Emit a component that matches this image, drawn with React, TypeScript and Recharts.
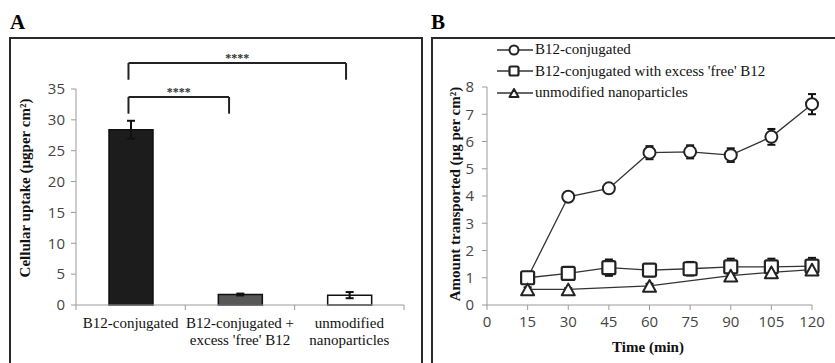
import React from "react";
import {
  BarChart,
  Bar,
  Cell,
  ErrorBar,
  LineChart,
  Line,
  XAxis,
  YAxis,
  ReferenceLine,
  Legend,
} from "recharts";

// panel A
const groups = [
  "B12-conjugated",
  "B12-conjugated +\nexcess 'free' B12",
  "unmodified\nnanoparticles",
];
const uptake = [28.4, 1.7, 1.6];
const uptakeErr = [1.45, 0.15, 0.5];
const barColors = ["#1c1c1c", "#575757", "#ffffff"];
const uptakeTicks = [0, 5, 10, 15, 20, 25, 30, 35];

// significance brackets: x in category units (0..3), y in µg per cm²
const brackets = [
  { from: 0.48, to: 2.47, y: 39.2, leg: 36.5, label: "****" },
  { from: 0.48, to: 1.4, y: 33.7, leg: 31.0, label: "****" },
];

// panel B
const times = [15, 30, 45, 60, 75, 90, 105, 120];
const conjugated = [1.0, 3.97, 4.28, 5.59, 5.62, 5.5, 6.17, 7.37];
const conjugatedErr = [0.1, 0.1, 0.15, 0.24, 0.24, 0.25, 0.29, 0.37];
const withFree = [1.0, 1.16, 1.37, 1.28, 1.33, 1.4, 1.4, 1.43];
const withFreeErr = [0.15, 0.15, 0.3, 0.22, 0.25, 0.3, 0.3, 0.3];
const unmodified = [0.57, 0.57, null, 0.7, null, 1.08, 1.2, 1.3];
const unmodifiedErr = [0.08, 0.05, null, 0.08, null, 0.1, 0.1, 0.1];
const timeTicks = [0, 15, 30, 45, 60, 75, 90, 105, 120];
const amountTicks = [0, 1, 2, 3, 4, 5, 6, 7, 8];

const seriesB = [
  { key: "conj", name: "B12-conjugated", shape: "circle" },
  { key: "free", name: "B12-conjugated with excess 'free' B12", shape: "square" },
  { key: "unmod", name: "unmodified nanoparticles", shape: "triangle" },
];

const barData = groups.map((g, i) => ({ group: g, pos: i + 0.5, value: uptake[i], err: uptakeErr[i] }));
const lineData = times.map((t, i) => ({
  time: t,
  conj: conjugated[i],
  conjErr: conjugatedErr[i],
  free: withFree[i],
  freeErr: withFreeErr[i],
  unmod: unmodified[i],
  unmodErr: unmodifiedErr[i],
}));

const SERIF = "'Liberation Serif', 'Times New Roman', serif";
const SANS = "'Open Sans', 'Liberation Sans', sans-serif";
const INK = "#222";
const AXIS = "#9a9a9a";

function Marker({ shape, cx, cy, s }: { shape: string; cx: number; cy: number; s: number }) {
  if (shape === "circle")
    return <circle cx={cx} cy={cy} r={s / 2} fill="#fff" stroke={INK} strokeWidth={2} />;
  if (shape === "square")
    return (
      <rect x={cx - s / 2} y={cy - s / 2} width={s} height={s} rx={1.5} fill="#fff" stroke={INK} strokeWidth={2.2} />
    );
  const h = s * 0.9;
  return (
    <polygon
      points={`${cx},${cy - h / 2} ${cx + s / 2},${cy + h / 2} ${cx - s / 2},${cy + h / 2}`}
      fill="#fff"
      stroke={INK}
      strokeWidth={2}
      strokeLinejoin="round"
    />
  );
}

function makeDot(shape: string, size: number) {
  return (props: any) => {
    const { cx, cy, index } = props;
    if (cx == null || cy == null) return <g key={index} />;
    return (
      <g key={index}>
        <Marker shape={shape} cx={cx} cy={cy} s={size} />
      </g>
    );
  };
}

const HALF_BAND = 54.7;

function GroupTick(props: any) {
  const { x, y, payload, index } = props;
  const lines = String(payload.value).split("\n");
  return (
    <g>
      <line x1={x - HALF_BAND} x2={x - HALF_BAND} y1={y} y2={y + 5} stroke={AXIS} />
      {index === groups.length - 1 && (
        <line x1={x + HALF_BAND} x2={x + HALF_BAND} y1={y} y2={y + 5} stroke={AXIS} />
      )}
      <text x={x} y={y} textAnchor="middle" fontFamily={SERIF} fontSize={15} fill="#111">
        {lines.map((l, i) => (
          <tspan key={i} x={x} dy={i === 0 ? 23 : 17}>
            {l}
          </tspan>
        ))}
      </text>
    </g>
  );
}

function LegendB() {
  return (
    <div style={{ fontFamily: SERIF, fontSize: 15, color: "#111" }}>
      {seriesB.map((s) => (
        <div key={s.key} style={{ display: "flex", alignItems: "center", height: 21.5 }}>
          <svg width={36} height={16}>
            <line x1={0} x2={36} y1={8} y2={8} stroke="#333" strokeWidth={1.3} />
            <Marker shape={s.shape} cx={17} cy={8} s={9} />
          </svg>
          <span style={{ marginLeft: 2, whiteSpace: "nowrap" }}>{s.name}</span>
        </div>
      ))}
    </div>
  );
}

const tickStyle = { fontFamily: SANS, fontSize: 15, fill: "#444" };

function Title({ x, y, text, rotate }: { x: number; y: number; text: string; rotate?: boolean }) {
  return (
    <div
      style={{
        position: "absolute",
        left: x,
        top: y,
        transform: `translate(-50%, -50%)${rotate ? " rotate(-90deg)" : ""}`,
        fontFamily: SERIF,
        fontWeight: "bold",
        fontSize: 15,
        color: "#111",
        whiteSpace: "nowrap",
      }}
    >
      {text}
    </div>
  );
}

export default function App() {
  return (
    <div
      style={{
        position: "absolute",
        left: 0,
        top: 0,
        width: 835,
        height: 363,
        overflow: "hidden",
        background: "#fff",
      }}
    >
      <div style={{ position: "absolute", left: 10, top: 10, fontFamily: SERIF, fontWeight: "bold", fontSize: 21 }}>A</div>
      <div style={{ position: "absolute", left: 431, top: 10, fontFamily: SERIF, fontWeight: "bold", fontSize: 21 }}>B</div>

      <div
        style={{
          position: "absolute",
          left: 9,
          top: 37,
          width: 410,
          height: 340,
          border: "2px solid #2a2a2a",
          borderBottom: "none",
        }}
      >
        <BarChart width={410} height={324} data={barData} margin={{ top: 50, right: 17, bottom: 0, left: 25 }}>
          <XAxis
            dataKey="group"
            height={58}
            tickLine={false}
            tickSize={0}
            tickMargin={0}
            stroke={AXIS}
            interval={0}
            tick={<GroupTick />}
          />
          <XAxis
            xAxisId="n"
            dataKey="pos"
            type="number"
            scale="linear"
            domain={[0, 3]}
            allowDataOverflow
            hide
          />
          <YAxis
            width={40}
            domain={[0, 35]}
            ticks={uptakeTicks}
            stroke={AXIS}
            tickSize={5}
            tickMargin={6}
            tick={tickStyle}
          />
          <Bar dataKey="value" barSize={44} stroke="#111" strokeWidth={1.5} isAnimationActive={false}>
            {barData.map((_, i) => (
              <Cell key={i} fill={barColors[i]} />
            ))}
            <ErrorBar dataKey="err" width={4} strokeWidth={2} stroke="#111" direction="y" />
          </Bar>
          {brackets.map((b, i) => (
            <ReferenceLine
              key={`h${i}`}
              xAxisId="n"
              ifOverflow="visible"
              stroke={INK}
              strokeWidth={2}
              segment={[
                { x: b.from, y: b.y },
                { x: b.to, y: b.y },
              ]}
              label={{ value: b.label, position: "top", offset: 1, fontSize: 12, fontWeight: "bold", fill: "#333", fontFamily: SERIF }}
            />
          ))}
          {brackets.flatMap((b, i) =>
            [b.from, b.to].map((x, j) => (
              <ReferenceLine
                key={`v${i}-${j}`}
                xAxisId="n"
                ifOverflow="visible"
                stroke={INK}
                strokeWidth={2}
                segment={[
                  { x, y: b.leg },
                  { x, y: b.y },
                ]}
              />
            ))
          )}
        </BarChart>
      </div>

      <div
        style={{
          position: "absolute",
          left: 431,
          top: 37,
          width: 420,
          height: 340,
          borderLeft: "2px solid #2a2a2a",
          borderTop: "2px solid #2a2a2a",
        }}
      >
        <LineChart width={402} height={324} data={lineData} margin={{ top: 48, right: 23, bottom: 0, left: 20 }}>
          <XAxis
            dataKey="time"
            type="number"
            domain={[0, 120]}
            ticks={timeTicks}
            height={58}
            stroke={AXIS}
            tickSize={5}
            tickMargin={6}
            tick={tickStyle}
          />
          <YAxis
            width={34}
            domain={[0, 8]}
            ticks={amountTicks}
            stroke={AXIS}
            tickSize={5}
            tickMargin={8}
            tick={tickStyle}
          />
          <Legend
            layout="vertical"
            align="center"
            verticalAlign="middle"
            wrapperStyle={{ left: 64, top: 0, width: "auto" }}
            content={<LegendB />}
          />
          <Line
            dataKey="conj"
            name={seriesB[0].name}
            stroke="#333"
            strokeWidth={1.3}
            dot={makeDot("circle", 12)}
            isAnimationActive={false}
          >
            <ErrorBar dataKey="conjErr" width={4} strokeWidth={2} stroke="#111" direction="y" />
          </Line>
          <Line
            dataKey="free"
            name={seriesB[1].name}
            stroke="#333"
            strokeWidth={1.3}
            dot={makeDot("square", 13)}
            isAnimationActive={false}
          >
            <ErrorBar dataKey="freeErr" width={4} strokeWidth={2} stroke="#111" direction="y" />
          </Line>
          <Line
            dataKey="unmod"
            name={seriesB[2].name}
            stroke="#333"
            strokeWidth={1.3}
            connectNulls
            dot={makeDot("triangle", 13)}
            isAnimationActive={false}
          >
            <ErrorBar dataKey="unmodErr" width={4} strokeWidth={2} stroke="#111" direction="y" />
          </Line>
        </LineChart>
      </div>

      <Title x={25} y={188} text="Cellular uptake (µgper cm²)" rotate />
      <Title x={455} y={194} text="Amount transported (µg per cm²)" rotate />
      <Title x={648} y={347} text="Time (min)" />
    </div>
  );
}
